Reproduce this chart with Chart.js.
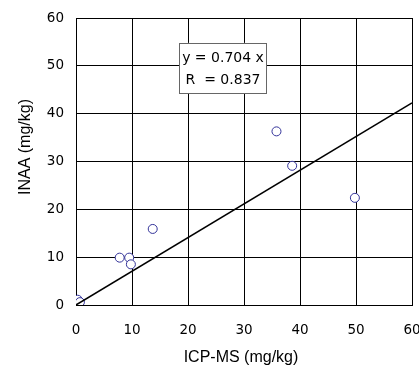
<!DOCTYPE html>
<html>
<head>
<meta charset="utf-8">
<script src="https://cdn.jsdelivr.net/npm/chart.js@4.4.1/dist/chart.umd.min.js"></script>
<style>
  html, body { margin: 0; padding: 0; background: #fff; }
  #wrap { width: 419px; height: 367px; }
</style>
</head>
<body>
<div id="wrap"><canvas id="chart" width="419" height="367"></canvas></div>
<script>
// --- Datos ---
const icpMs = [0.3, 0.7, 7.8, 9.5, 9.8, 13.7, 35.8, 38.6, 49.8];
const inaa  = [1.1, 0.6, 9.9, 9.9, 8.5, 15.9, 36.3, 29.1, 22.4];

// Recta de ajuste y = 0.704 x
const slope = 0.704;
const rValue = 0.837;
const fitX = [0, 60];

const axisMin = 0;
const axisMax = 60;
const axisStep = 10;

const labelLines = ['y = ' + slope.toFixed(3) + ' x', 'R  = ' + rValue.toFixed(3)];
// esquina del cuadro de texto (en unidades de datos)
const labelBox = { x1: 18.45, x2: 34.05, y1: 54.8, y2: 44.3 };

const POINT_COLOR = '#333399';

// cuadro de texto con la ecuación
const equationBox = {
    id: 'equationBox',
    afterDatasetsDraw(chart) {
        const { ctx, scales: { x, y } } = chart;
        const l = x.getPixelForValue(labelBox.x1);
        const r = x.getPixelForValue(labelBox.x2);
        const t = y.getPixelForValue(labelBox.y1);
        const b = y.getPixelForValue(labelBox.y2);
        ctx.save();
        ctx.fillStyle = '#fff';
        ctx.fillRect(l, t, r - l, b - t);
        ctx.strokeStyle = '#666';
        ctx.lineWidth = 1;
        ctx.strokeRect(Math.round(l) + 0.5, Math.round(t) + 0.5, Math.round(r - l), Math.round(b - t));
        ctx.fillStyle = '#000';
        ctx.font = "14px 'DejaVu Sans'";
        ctx.textAlign = 'center';
        ctx.textBaseline = 'middle';
        const cx = (l + r) / 2;
        ctx.fillText(labelLines[0], cx, t + 15);
        ctx.fillText(labelLines[1], cx, t + 37);
        ctx.restore();
    }
};

// títulos de los ejes
const axisTitles = {
    id: 'axisTitles',
    afterDraw(chart) {
        const { ctx } = chart;
        ctx.save();
        ctx.fillStyle = '#000';
        ctx.font = "16px 'Liberation Sans'";
        ctx.textAlign = 'center';
        ctx.textBaseline = 'middle';
        ctx.fillText('ICP-MS (mg/kg)', 241, 358);
        ctx.translate(26, 147);
        ctx.rotate(-Math.PI / 2);
        ctx.fillText('INAA (mg/kg)', 0, 0);
        ctx.restore();
    }
};

new Chart(document.getElementById('chart').getContext('2d'), {
    type: 'scatter',
    data: {
        datasets: [
            {
                label: 'ajuste',
                data: fitX.map(v => ({ x: v, y: slope * v })),
                showLine: true,
                borderColor: '#000',
                borderWidth: 1.5,
                pointRadius: 0,
                fill: false,
                order: 0
            },
            {
                label: 'muestras',
                data: icpMs.map((v, i) => ({ x: v, y: inaa[i] })),
                pointRadius: 4.5,
                pointBorderWidth: 1,
                borderColor: POINT_COLOR,
                backgroundColor: '#fff',
                order: 1
            }
        ]
    },
    options: {
        responsive: false,
        animation: false,
        layout: { padding: { top: 18, right: 7, left: 0, bottom: 0 } },
        plugins: {
            legend: { display: false },
            tooltip: { enabled: false }
        },
        scales: {
            x: {
                type: 'linear',
                min: axisMin,
                max: axisMax,
                afterFit: (s) => { s.height = 62; s.paddingLeft = 0; s.paddingRight = 0; },
                border: { color: '#000', width: 1 },
                grid: { color: '#000', lineWidth: 1, drawTicks: false },
                ticks: {
                    stepSize: axisStep,
                    padding: 17,
                    color: '#000',
                    font: { family: "'DejaVu Sans'", size: 13.5 }
                }
            },
            y: {
                type: 'linear',
                min: axisMin,
                max: axisMax,
                afterFit: (s) => { s.width = 76; s.paddingTop = 0; s.paddingBottom = 0; },
                border: { color: '#000', width: 1 },
                grid: { color: '#000', lineWidth: 1, drawTicks: false },
                ticks: {
                    stepSize: axisStep,
                    padding: 12,
                    color: '#000',
                    font: { family: "'DejaVu Sans'", size: 13.5 }
                }
            }
        }
    },
    plugins: [equationBox, axisTitles]
});
</script>
</body>
</html>
